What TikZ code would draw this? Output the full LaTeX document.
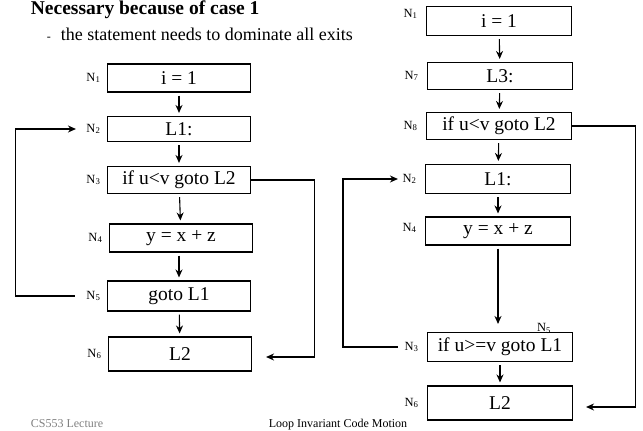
\documentclass[tikz,border=0pt]{standalone}
\usepackage{fontspec}
\setmainfont{Liberation Serif}
\usetikzlibrary{positioning,arrows.meta}
\begin{document}
\begin{tikzpicture}
[
x=1pt, y=-1pt,
line width=1.1pt,
blk/.style={draw, minimum width=143pt, minimum height=28pt, inner sep=0pt, font=\fontsize{19.5}{22}\selectfont},
lab/.style={inner sep=0pt, font=\fontsize{12.5}{14}\selectfont},
flow/.style={-{Stealth[length=8pt,width=7pt]}},
down/.style={flow, shorten <=3pt, shorten >=3pt}
]
\useasboundingbox (0,0) rectangle (643,431);
\node[anchor=base west, font=\bfseries\fontsize{19.5}{22}\selectfont] (title) at (27,14) {Necessary because of case 1};
\node[anchor=base west, font=\fontsize{18}{22}\selectfont] (sub) at (43,40)
  {{\fontsize{12}{12}\selectfont -}\hspace{10pt}the statement needs to dominate all exits};

% left: original placement
\node[blk] (l1) at (179,78) {i = 1};
\node[blk, minimum height=25pt] (l2) at (179,129) {L1:};
\node[blk, minimum height=27pt] (l3) at (179,180) {if u<v goto L2};
\node[blk] (l4) at (181,238) {y = x + z};
\node[blk, minimum height=30pt] (l5) at (179,296) {goto L1};
\node[blk, minimum height=34pt] (l6) at (180,354) {L2};
\node[lab, left=6pt of l1] (l1n) {N\textsubscript{1}};
\node[lab, left=6pt of l2] (l2n) {N\textsubscript{2}};
\node[lab, left=6pt of l3] (l3n) {N\textsubscript{3}};
\node[lab, left=6pt of l4] (l4n) {N\textsubscript{4}};
\node[lab, left=6pt of l5] (l5n) {N\textsubscript{5}};
\node[lab, left=6pt of l6] (l6n) {N\textsubscript{6}};
\draw[down] (l1) -- (l2);
\draw[down] (l2) -- (l3);
\draw[down] (l3) -- (l4);
\draw[down] (l4.south -| l5) -- (l5);
\draw[down] (l5) -- (l6);
\draw[flow] ([xshift=-11pt]l5n.west) -- ++(-59pt,0) |- ([xshift=-10pt]l2n.west);
\draw[flow] (l3.east) -- ++(63,0) |- ([xshift=14pt,yshift=-3pt]l6.east);

% right: after moving the test
\node[blk, minimum width=145pt, minimum height=29pt] (r1) at (499,21) {i = 1};
\node[blk, minimum width=145pt, minimum height=27pt] (r7) at (500,76) {L3:};
\node[blk, minimum width=145pt, minimum height=27pt] (r8) at (499,126) {if u<v goto L2};
\node[blk, minimum width=145pt, minimum height=29pt] (r2) at (498,179) {L1:};
\node[blk, minimum width=145pt] (r4) at (498,231) {y = x + z};
\node[blk, minimum width=145pt, minimum height=29pt] (r3) at (500,347) {if u>=v goto L1};
\node[blk, minimum width=145pt, minimum height=34pt] (r6) at (500,403) {L2};
\node[lab, left=8pt of r1, yshift=7pt] (r1n) {N\textsubscript{1}};
\node[lab, left=8pt of r7] (r7n) {N\textsubscript{7}};
\node[lab, left=8pt of r8] (r8n) {N\textsubscript{8}};
\node[lab, left=8pt of r2] (r2n) {N\textsubscript{2}};
\node[lab, left=8pt of r4, yshift=3pt] (r4n) {N\textsubscript{4}};
\node[lab, left=8pt of r3] (r3n) {N\textsubscript{3}};
\node[lab, left=8pt of r6] (r6n) {N\textsubscript{6}};
\node[lab, anchor=south] (r3m) at ([xshift=-29pt,yshift=-2pt]r3.north east) {N\textsubscript{5}};
\draw[down] (r1) -- (r7);
\draw[down] (r7) -- (r8);
\draw[down] (r8) -- (r2);
\draw[down] (r2) -- (r4);
\draw[down, shorten >=8pt] (r4) -- (r4.south |- r3.north);
\draw[down] (r3) -- (r6);
\draw[flow] ([xshift=-6pt]r3n.west) -- ++(-55pt,0) |- ([xshift=-4pt]r2n.west);
\draw[flow] (r8.east) -- ++(63,0) |- ([xshift=13pt,yshift=-4pt]r6.east);

\node[anchor=base west, font=\fontsize{12}{14}\selectfont, text=gray] (foot1) at (27,427) {CS553 Lecture};
\node[anchor=base west, font=\fontsize{12}{14}\selectfont] (foot2) at (265,427) {Loop Invariant Code Motion};
\end{tikzpicture}
\end{document}
